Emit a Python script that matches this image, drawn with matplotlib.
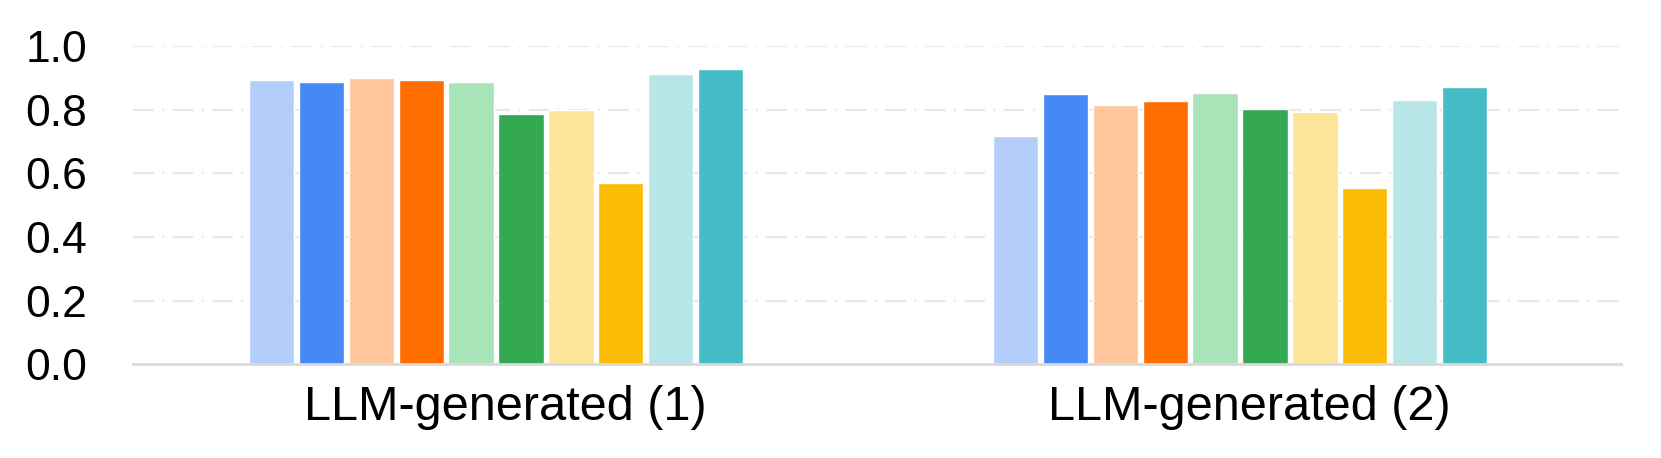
import matplotlib
matplotlib.use('Agg')
import matplotlib.pyplot as plt
import numpy as np

plt.rcParams['font.family'] = ['Liberation Sans', 'DejaVu Sans']
plt.rcParams['lines.scale_dashes'] = False

categories = ['LLM-generated (1)', 'LLM-generated (2)']
colors = ['#b4cefb', '#4589f5', '#ffc59b', '#ff6d01', '#a8e4b8',
          '#34a853', '#fce49b', '#fbbc04', '#b7e5e8', '#46bdc6']

# one list per bar slot (10 bars per group)
values_1 = [0.893, 0.888, 0.902, 0.894, 0.888, 0.788, 0.800, 0.569, 0.914, 0.929]
values_2 = [0.719, 0.850, 0.815, 0.828, 0.855, 0.802, 0.794, 0.554, 0.831, 0.873]
yticks = [0.0, 0.2, 0.4, 0.6, 0.8, 1.0]

data = np.array([values_1, values_2])

fig = plt.figure(figsize=(16.61, 4.58), dpi=100)
ax = fig.add_axes([0.0801, 0.2052, 0.8958, 0.6933])

x = np.arange(len(categories))
width = 0.061
step = 0.067
first = -0.3135

for t in yticks[1:]:
    ax.axhline(t, color='#e8e8e8', lw=1.6, dashes=(15, 6, 1.5, 6), zorder=0)

for i in range(data.shape[1]):
    ax.bar(x + first + i * step, data[:, i], width, color=colors[i],
           edgecolor='white', linewidth=1, zorder=2)

ax.axhline(0, color='#d9d9d9', lw=2, zorder=3, clip_on=False)

ax.set_xlim(-0.5, 1.5)
ax.set_ylim(0, 1.0)
ax.set_yticks(yticks)
ax.set_yticklabels(['%.1f' % t for t in yticks])
ax.set_xticks(x)
ax.set_xticklabels(categories)
ax.tick_params(axis='y', length=0, pad=33, labelsize=32)
ax.tick_params(axis='x', length=0, pad=15, labelsize=35)
for s in ax.spines.values():
    s.set_visible(False)

fig.savefig('out.png', dpi=100)
